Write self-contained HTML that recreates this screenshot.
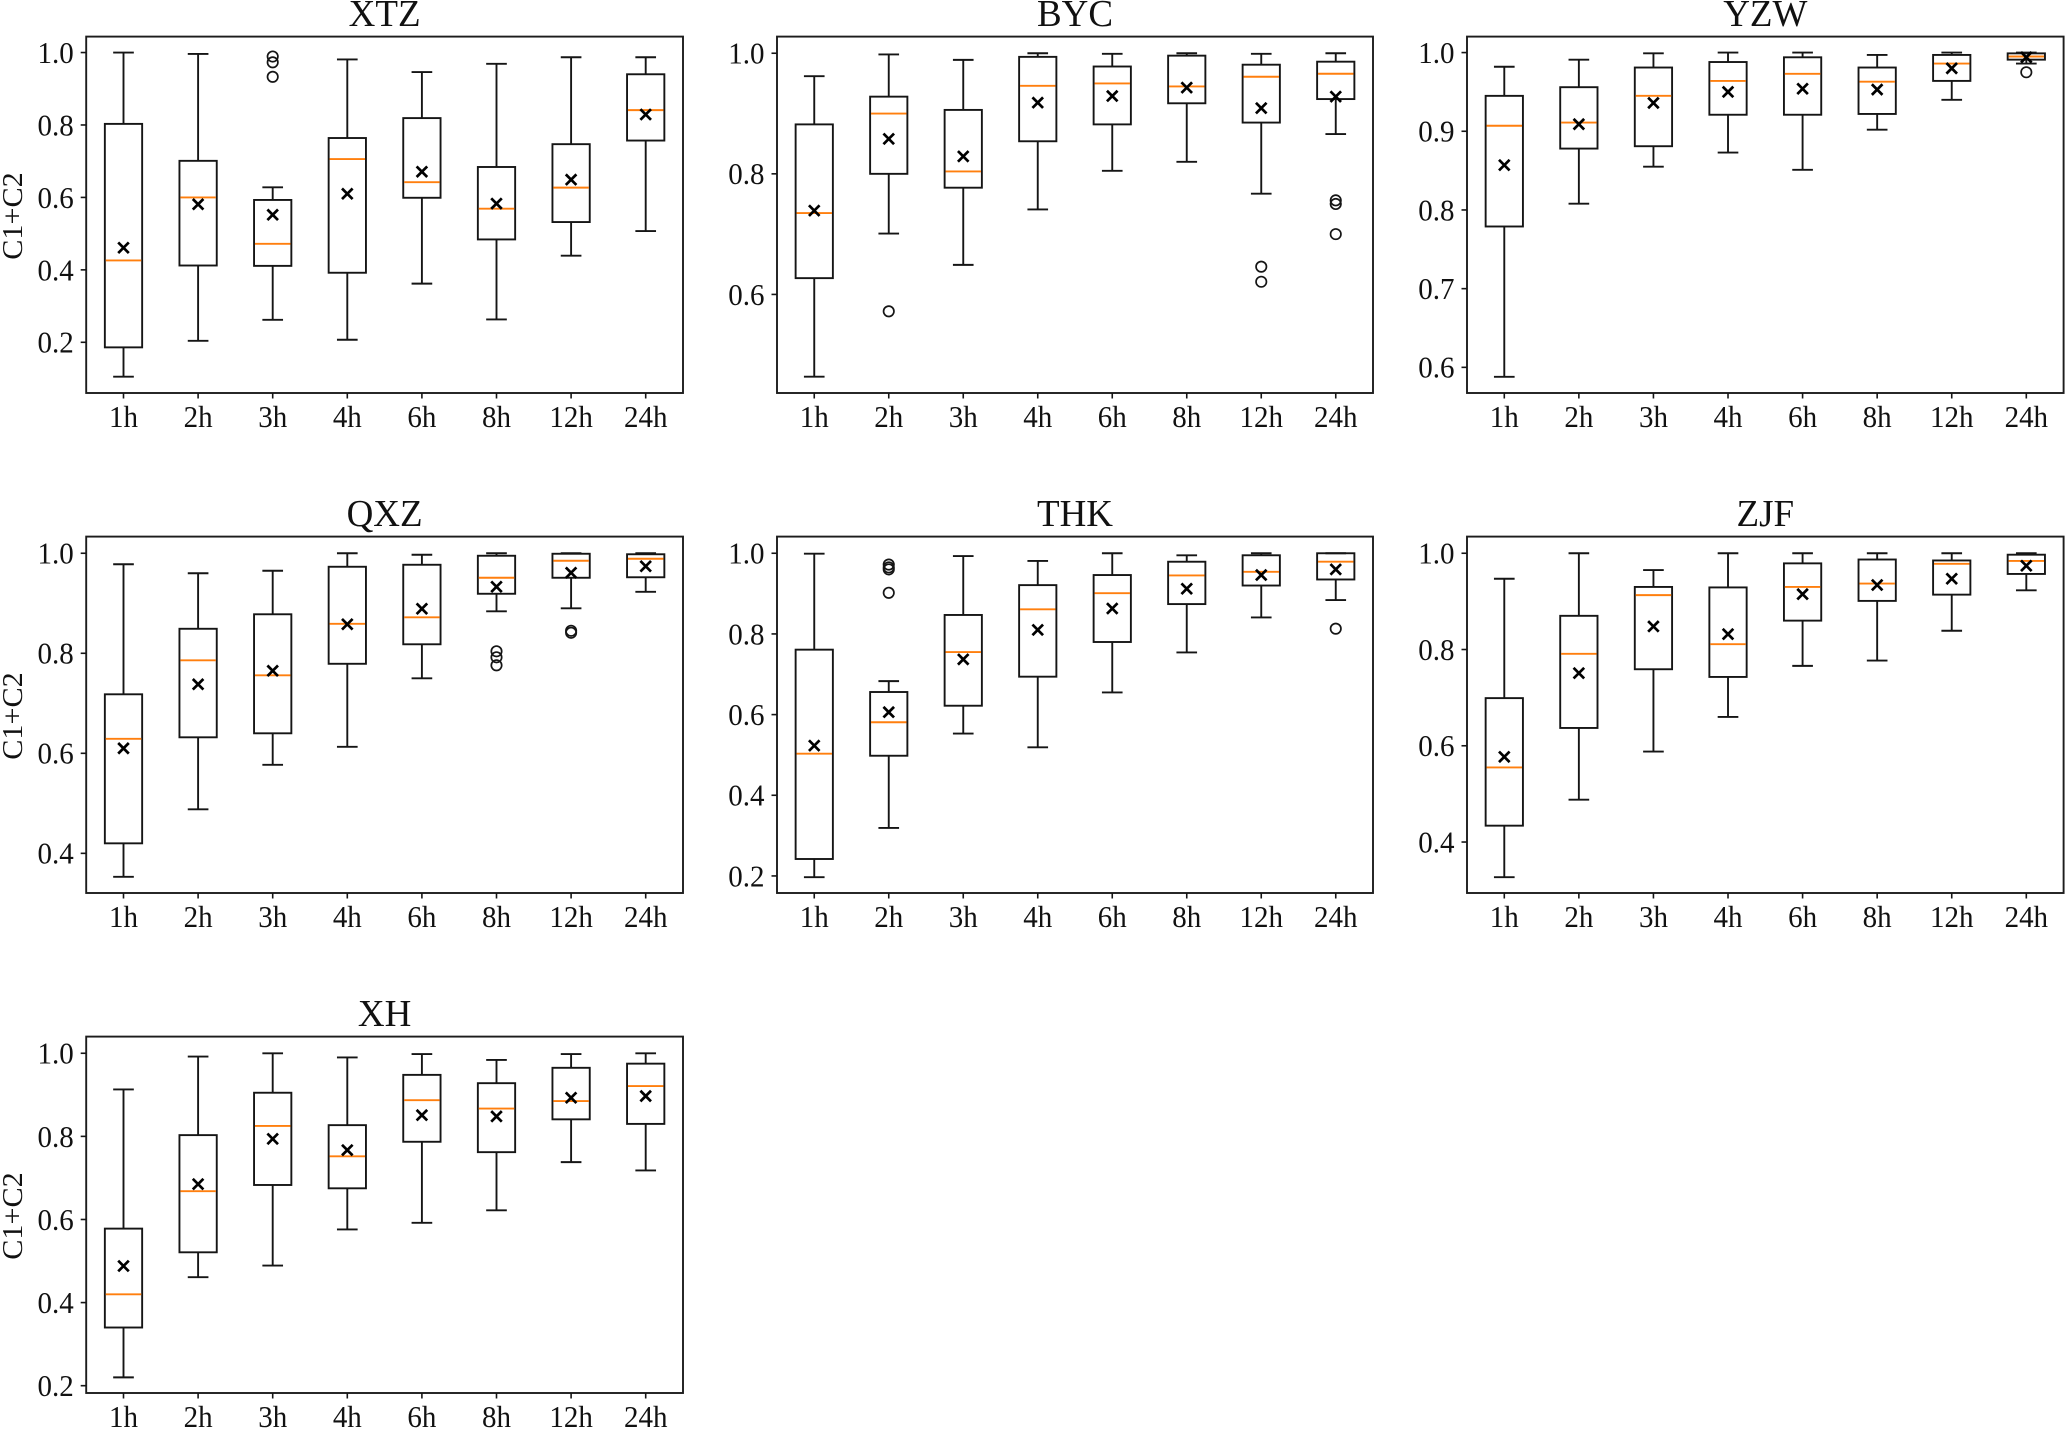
<!DOCTYPE html>
<html lang="en">
<head>
<meta charset="utf-8">
<title>C1+C2 box plots by site and duration</title>
<style>
html,body{margin:0;padding:0;background:#fff;}
body{width:2067px;height:1434px;overflow:hidden;}
svg{display:block;}
text{font-family:"Liberation Serif",serif;fill:#111;}
.title{font-size:37px;text-anchor:middle;}
.ylab{font-size:28.5px;text-anchor:middle;}
.frame{fill:none;stroke:#1c1c1c;stroke-width:1.9;}
</style>
</head>
<body>
<svg id="figure" width="2067" height="1434" viewBox="0 0 2067 1434" xmlns="http://www.w3.org/2000/svg">
  <g id="panel-xtz">
    <rect class="frame" x="86.2" y="36.6" width="596.8" height="356.4"></rect>
    <text class="title" transform="translate(384.6 26) scale(1 1.04)">XTZ</text>
    <text class="ylab" transform="translate(22 216) rotate(-90) scale(1.06 1)">C1+C2</text>
  </g>
  <g id="panel-byc">
    <rect class="frame" x="777" y="36.6" width="596" height="356.4"></rect>
    <text class="title" transform="translate(1075 26) scale(1 1.04)">BYC</text>
  </g>
  <g id="panel-yzw">
    <rect class="frame" x="1467" y="36.6" width="596.6" height="356.4"></rect>
    <text class="title" transform="translate(1765.3 26) scale(1 1.04)">YZW</text>
  </g>
  <g id="panel-qxz">
    <rect class="frame" x="86.2" y="536.6" width="596.8" height="356.4"></rect>
    <text class="title" transform="translate(384.6 526) scale(1 1.04)">QXZ</text>
    <text class="ylab" transform="translate(22 716) rotate(-90) scale(1.06 1)">C1+C2</text>
  </g>
  <g id="panel-thk">
    <rect class="frame" x="777" y="536.6" width="596" height="356.4"></rect>
    <text class="title" transform="translate(1075 526) scale(1 1.04)">THK</text>
  </g>
  <g id="panel-zjf">
    <rect class="frame" x="1467" y="536.6" width="596.6" height="356.4"></rect>
    <text class="title" transform="translate(1765.3 526) scale(1 1.04)">ZJF</text>
  </g>
  <g id="panel-xh">
    <rect class="frame" x="86.2" y="1036.6" width="596.8" height="356.4"></rect>
    <text class="title" transform="translate(384.6 1026) scale(1 1.04)">XH</text>
    <text class="ylab" transform="translate(22 1216) rotate(-90) scale(1.06 1)">C1+C2</text>
  </g>
</svg>
<script>
const categories = ['1h','2h','3h','4h','6h','8h','12h','24h'];

const xtzDomain = [0.060, 1.044];
const xtzTicks = [0.2, 0.4, 0.6, 0.8, 1.0];
const xtzLow = [0.105, 0.204, 0.262, 0.207, 0.362, 0.263, 0.439, 0.507];
const xtzQ1 = [0.186, 0.412, 0.411, 0.392, 0.599, 0.484, 0.532, 0.757];
const xtzMedian = [0.426, 0.600, 0.472, 0.706, 0.642, 0.569, 0.627, 0.841];
const xtzQ3 = [0.803, 0.701, 0.593, 0.764, 0.819, 0.684, 0.747, 0.940];
const xtzHigh = [1.000, 0.996, 0.628, 0.981, 0.946, 0.969, 0.987, 0.987];
const xtzMean = [0.461, 0.581, 0.552, 0.610, 0.671, 0.583, 0.649, 0.829];
const xtzFliers = [[], [], [0.989, 0.973, 0.933], [], [], [], [], []];

const bycDomain = [0.4365, 1.0276];
const bycTicks = [0.6, 0.8, 1.0];
const bycLow = [0.4635, 0.701, 0.649, 0.741, 0.805, 0.820, 0.767, 0.866];
const bycQ1 = [0.627, 0.800, 0.777, 0.854, 0.882, 0.917, 0.885, 0.924];
const bycMedian = [0.735, 0.900, 0.804, 0.946, 0.950, 0.945, 0.961, 0.966];
const bycQ3 = [0.882, 0.928, 0.906, 0.994, 0.978, 0.996, 0.981, 0.986];
const bycHigh = [0.962, 0.998, 0.989, 1.000, 0.999, 1.000, 0.999, 1.000];
const bycMean = [0.739, 0.858, 0.829, 0.918, 0.929, 0.943, 0.909, 0.928];
const bycFliers = [[], [0.572], [], [], [], [], [0.646, 0.621], [0.756, 0.750, 0.700]];

const yzwDomain = [0.5674, 1.0203];
const yzwTicks = [0.6, 0.7, 0.8, 0.9, 1.0];
const yzwLow = [0.588, 0.808, 0.855, 0.873, 0.851, 0.902, 0.940, 0.986];
const yzwQ1 = [0.779, 0.878, 0.881, 0.921, 0.921, 0.922, 0.964, 0.991];
const yzwMedian = [0.907, 0.911, 0.945, 0.964, 0.973, 0.963, 0.986, 0.995];
const yzwQ3 = [0.945, 0.956, 0.981, 0.988, 0.994, 0.981, 0.997, 0.999];
const yzwHigh = [0.982, 0.991, 0.999, 1.000, 1.000, 0.997, 1.000, 1.000];
const yzwMean = [0.857, 0.909, 0.936, 0.950, 0.954, 0.953, 0.980, 0.994];
const yzwFliers = [[], [], [], [], [], [], [], [0.975]];

const qxzDomain = [0.3207, 1.0333];
const qxzTicks = [0.4, 0.6, 0.8, 1.0];
const qxzLow = [0.353, 0.488, 0.577, 0.613, 0.750, 0.884, 0.890, 0.923];
const qxzQ1 = [0.420, 0.632, 0.640, 0.779, 0.818, 0.919, 0.951, 0.952];
const qxzMedian = [0.629, 0.786, 0.756, 0.859, 0.872, 0.951, 0.985, 0.989];
const qxzQ3 = [0.718, 0.849, 0.878, 0.973, 0.977, 0.995, 0.999, 0.998];
const qxzHigh = [0.978, 0.960, 0.965, 1.000, 0.997, 1.000, 1.000, 1.000];
const qxzMean = [0.610, 0.738, 0.765, 0.858, 0.889, 0.933, 0.961, 0.974];
const qxzFliers = [[], [], [], [], [], [0.804, 0.792, 0.776], [0.845, 0.841], []];

const thkDomain = [0.1577, 1.0413];
const thkTicks = [0.2, 0.4, 0.6, 0.8, 1.0];
const thkLow = [0.197, 0.319, 0.553, 0.519, 0.655, 0.754, 0.841, 0.884];
const thkQ1 = [0.242, 0.498, 0.622, 0.694, 0.780, 0.874, 0.920, 0.935];
const thkMedian = [0.503, 0.581, 0.755, 0.861, 0.901, 0.945, 0.954, 0.979];
const thkQ3 = [0.761, 0.656, 0.847, 0.921, 0.946, 0.979, 0.995, 1.000];
const thkHigh = [0.999, 0.683, 0.993, 0.981, 1.000, 0.995, 1.000, 1.000];
const thkMean = [0.523, 0.606, 0.737, 0.810, 0.863, 0.912, 0.946, 0.960];
const thkFliers = [[], [0.972, 0.965, 0.960, 0.902], [], [], [], [], [], [0.813]];

const zjfDomain = [0.2941, 1.0346];
const zjfTicks = [0.4, 0.6, 0.8, 1.0];
const zjfLow = [0.327, 0.488, 0.588, 0.660, 0.766, 0.777, 0.839, 0.923];
const zjfQ1 = [0.434, 0.637, 0.759, 0.743, 0.860, 0.901, 0.914, 0.957];
const zjfMedian = [0.555, 0.791, 0.913, 0.811, 0.930, 0.937, 0.978, 0.984];
const zjfQ3 = [0.699, 0.870, 0.930, 0.929, 0.979, 0.987, 0.985, 0.997];
const zjfHigh = [0.947, 1.000, 0.965, 1.000, 1.000, 1.000, 1.000, 1.000];
const zjfMean = [0.577, 0.751, 0.848, 0.832, 0.915, 0.934, 0.947, 0.974];
const zjfFliers = [[], [], [], [], [], [], [], []];

const xhDomain = [0.1824, 1.0401];
const xhTicks = [0.2, 0.4, 0.6, 0.8, 1.0];
const xhLow = [0.220, 0.461, 0.489, 0.576, 0.592, 0.622, 0.738, 0.718];
const xhQ1 = [0.340, 0.521, 0.683, 0.675, 0.787, 0.762, 0.841, 0.830];
const xhMedian = [0.420, 0.668, 0.825, 0.752, 0.887, 0.867, 0.885, 0.921];
const xhQ3 = [0.578, 0.803, 0.905, 0.827, 0.948, 0.928, 0.965, 0.975];
const xhHigh = [0.913, 0.992, 1.000, 0.990, 0.998, 0.984, 0.998, 1.000];
const xhMean = [0.488, 0.685, 0.794, 0.767, 0.851, 0.848, 0.893, 0.897];
const xhFliers = [[], [], [], [], [], [], [], []];

const NS = 'http://www.w3.org/2000/svg';
const INK = '#151515';
const MEDIAN_COLOR = '#ff7f0e';
const LINE_W = 1.9;

function make(tag, props) {
  const el = document.createElementNS(NS, tag);
  for (const key in props) el.setAttribute(key, props[key]);
  return el;
}

function drawPanel(cfg) {
  const g = document.getElementById('panel-' + cfg.id);
  const xScale = function (i) { return cfg.left + (i + 0.5) / categories.length * cfg.width; };
  const yScale = function (v) {
    return cfg.top + cfg.height * (cfg.domain[1] - v) / (cfg.domain[1] - cfg.domain[0]);
  };
  const unit = cfg.width / categories.length;
  const boxW = unit * 0.5;
  const capW = unit * 0.277;
  const bottom = cfg.top + cfg.height;

  cfg.ticks.forEach(function (t) {
    const y = yScale(t);
    const tick = make('line', { x1: cfg.left - 5.5, x2: cfg.left, y1: y, y2: y, stroke: INK, 'stroke-width': 1.6 });
    
    
    g.appendChild(tick);
    const label = make('text', {
      transform: 'translate(' + (cfg.left - 12.5) + ' ' + (y + 10.4) + ') scale(1 1.07)',
      'text-anchor': 'end', 'font-size': 29
    });
    
    
    label.textContent = t.toFixed(1);
    g.appendChild(label);
  });

  categories.forEach(function (cat, i) {
    const cx = xScale(i);
    const tick = make('line', { x1: cx, x2: cx, y1: bottom, y2: bottom + 5.5, stroke: INK, 'stroke-width': 1.6 });
    
    
    g.appendChild(tick);
    const label = make('text', {
      transform: 'translate(' + cx + ' ' + (bottom + 34.2) + ') scale(1 1.07)',
      'text-anchor': 'middle', 'font-size': 29
    });
    
    
    label.textContent = cat;
    g.appendChild(label);

    const group = make('g', {});
    
    
    g.appendChild(group);

    const yQ1 = yScale(cfg.q1[i]);
    const yQ3 = yScale(cfg.q3[i]);
    const yLow = yScale(cfg.low[i]);
    const yHigh = yScale(cfg.high[i]);
    const yMed = yScale(cfg.median[i]);
    const yMean = yScale(cfg.mean[i]);

    const whiskerLow = make('line', { x1: cx, x2: cx, y1: yQ1, y2: yLow, stroke: INK, 'stroke-width': LINE_W });
    
    
    group.appendChild(whiskerLow);

    const whiskerHigh = make('line', { x1: cx, x2: cx, y1: yQ3, y2: yHigh, stroke: INK, 'stroke-width': LINE_W });
    
    
    group.appendChild(whiskerHigh);

    const capLow = make('line', { x1: cx - capW / 2, x2: cx + capW / 2, y1: yLow, y2: yLow, stroke: INK, 'stroke-width': LINE_W });
    
    
    group.appendChild(capLow);

    const capHigh = make('line', { x1: cx - capW / 2, x2: cx + capW / 2, y1: yHigh, y2: yHigh, stroke: INK, 'stroke-width': LINE_W });
    
    
    group.appendChild(capHigh);

    const box = make('rect', { x: cx - boxW / 2, y: yQ3, width: boxW, height: Math.max(0, yQ1 - yQ3), fill: 'none', stroke: INK, 'stroke-width': LINE_W });
    
    
    group.appendChild(box);

    const median = make('line', { x1: cx - boxW / 2 + 0.9, x2: cx + boxW / 2 - 0.9, y1: yMed, y2: yMed, stroke: MEDIAN_COLOR, 'stroke-width': 1.9 });
    
    
    group.appendChild(median);

    cfg.fliers[i].forEach(function (v) {
      const flier = make('circle', { cx: cx, cy: yScale(v), r: 5.2, fill: 'none', stroke: INK, 'stroke-width': 1.7 });
      
      
      group.appendChild(flier);
    });

    const s = 5.3;
    const mean = make('path', {
      d: 'M' + (cx - s) + ' ' + (yMean - s) + 'L' + (cx + s) + ' ' + (yMean + s) +
         'M' + (cx - s) + ' ' + (yMean + s) + 'L' + (cx + s) + ' ' + (yMean - s),
      fill: 'none', stroke: '#000', 'stroke-width': 2.7
    });
    
    
    group.appendChild(mean);
  });
}

drawPanel({ id: 'xtz', left: 86.2, top: 36.6, width: 596.8, height: 356.4, domain: xtzDomain, ticks: xtzTicks, low: xtzLow, q1: xtzQ1, median: xtzMedian, q3: xtzQ3, high: xtzHigh, mean: xtzMean, fliers: xtzFliers });
drawPanel({ id: 'byc', left: 777, top: 36.6, width: 596, height: 356.4, domain: bycDomain, ticks: bycTicks, low: bycLow, q1: bycQ1, median: bycMedian, q3: bycQ3, high: bycHigh, mean: bycMean, fliers: bycFliers });
drawPanel({ id: 'yzw', left: 1467, top: 36.6, width: 596.6, height: 356.4, domain: yzwDomain, ticks: yzwTicks, low: yzwLow, q1: yzwQ1, median: yzwMedian, q3: yzwQ3, high: yzwHigh, mean: yzwMean, fliers: yzwFliers });
drawPanel({ id: 'qxz', left: 86.2, top: 536.6, width: 596.8, height: 356.4, domain: qxzDomain, ticks: qxzTicks, low: qxzLow, q1: qxzQ1, median: qxzMedian, q3: qxzQ3, high: qxzHigh, mean: qxzMean, fliers: qxzFliers });
drawPanel({ id: 'thk', left: 777, top: 536.6, width: 596, height: 356.4, domain: thkDomain, ticks: thkTicks, low: thkLow, q1: thkQ1, median: thkMedian, q3: thkQ3, high: thkHigh, mean: thkMean, fliers: thkFliers });
drawPanel({ id: 'zjf', left: 1467, top: 536.6, width: 596.6, height: 356.4, domain: zjfDomain, ticks: zjfTicks, low: zjfLow, q1: zjfQ1, median: zjfMedian, q3: zjfQ3, high: zjfHigh, mean: zjfMean, fliers: zjfFliers });
drawPanel({ id: 'xh', left: 86.2, top: 1036.6, width: 596.8, height: 356.4, domain: xhDomain, ticks: xhTicks, low: xhLow, q1: xhQ1, median: xhMedian, q3: xhQ3, high: xhHigh, mean: xhMean, fliers: xhFliers });
</script>
</body>
</html>
